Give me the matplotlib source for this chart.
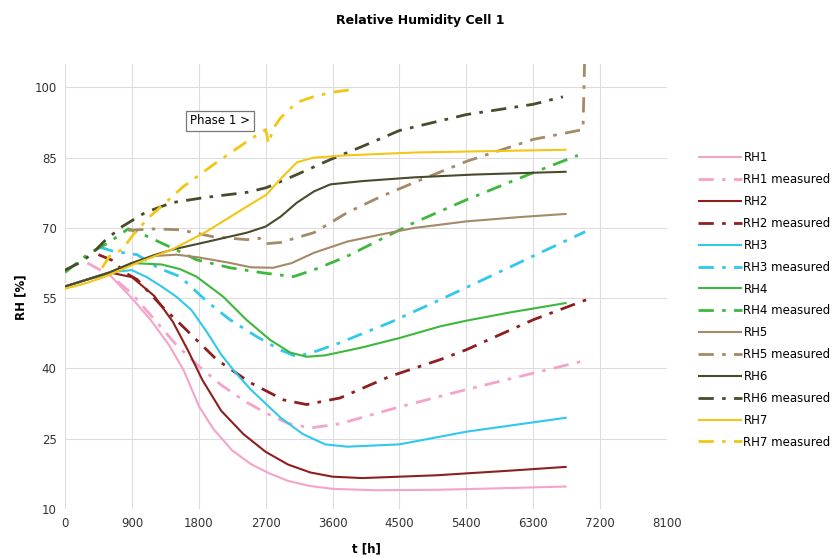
#!/usr/bin/env python3
"""
Relative humidity in cell 1: simulated vs measured sensors RH1..RH7
"""

import matplotlib.pyplot as plt

plt.rcParams['font.family'] = ['DejaVu Sans']

# --- simulated (solid) ---
t_rh1 = [0, 300, 600, 900, 1150, 1400, 1600, 1800, 2000, 2250, 2500, 2750, 3000, 3300, 3600, 4200, 5000, 5800, 6750]
rh1 = [57.5, 59.0, 60.0, 55.0, 50.4, 45.0, 39.5, 32.0, 27.0, 22.5, 19.6, 17.6, 16.0, 14.9, 14.3, 14.0, 14.1, 14.4, 14.8]

t_rh2 = [0, 300, 600, 900, 1200, 1450, 1650, 1850, 2100, 2400, 2700, 3000, 3300, 3600, 4000, 5000, 6000, 6750]
rh2 = [57.5, 59.0, 60.5, 59.5, 55.5, 50.0, 44.0, 37.5, 31.0, 26.0, 22.2, 19.5, 17.8, 16.9, 16.6, 17.2, 18.2, 19.0]

t_rh3 = [0, 300, 600, 900, 1100, 1300, 1500, 1700, 1900, 2100, 2300, 2500, 2900, 3200, 3500, 3800, 4500, 5400, 6300, 6750]
rh3 = [57.5, 59.0, 60.5, 61.0, 59.5, 57.5, 55.3, 52.5, 48.0, 43.0, 39.0, 35.5, 29.5, 26.0, 23.8, 23.3, 23.8, 26.5, 28.5, 29.5]

t_rh4 = [0, 300, 600, 900, 1300, 1550, 1770, 2130, 2440, 2760, 3030, 3250, 3500, 4000, 4500, 5050, 5400, 6000, 6750]
rh4 = [57.5, 59.0, 60.5, 62.5, 62.2, 61.2, 59.6, 55.3, 50.4, 46.1, 43.4, 42.5, 42.8, 44.5, 46.5, 49.0, 50.2, 52.0, 54.0]

t_rh5 = [0, 300, 600, 900, 1200, 1500, 1800, 2200, 2500, 2800, 3050, 3350, 3800, 4250, 4700, 5400, 6100, 6750]
rh5 = [57.5, 59.0, 60.5, 62.5, 64.0, 64.3, 63.7, 62.6, 61.6, 61.5, 62.5, 64.7, 67.1, 68.6, 70.0, 71.4, 72.3, 73.0]

t_rh6 = [0, 300, 600, 900, 1200, 1450, 1900, 2450, 2700, 2900, 3120, 3350, 3570, 4000, 4700, 5500, 6750]
rh6 = [57.5, 59.0, 60.5, 62.5, 64.2, 65.4, 67.0, 69.0, 70.3, 72.4, 75.4, 77.8, 79.3, 80.0, 80.8, 81.4, 82.0]

t_rh7 = [0, 300, 540, 980, 1440, 1880, 2450, 2710, 2890, 3120, 3340, 3790, 4700, 6750]
rh7 = [57.0, 58.3, 59.6, 62.6, 65.4, 69.0, 74.6, 77.1, 80.3, 84.0, 85.0, 85.5, 86.1, 86.7]

# --- measured (dash-dot) ---
t_rh1_meas = [300, 600, 900, 1200, 1500, 1800, 2100, 2400, 2700, 3000, 3300, 3700, 4500, 5400, 6300, 6950]
rh1_meas = [62.5, 60.0, 56.0, 50.5, 45.0, 40.5, 36.5, 33.2, 30.5, 28.3, 27.3, 28.2, 31.8, 35.5, 39.0, 41.5]

t_rh2_meas = [450, 650, 800, 970, 1320, 1590, 1770, 2040, 2490, 2940, 3250, 3700, 4370, 5050, 5400, 6300, 7020]
rh2_meas = [64.3, 63.0, 60.5, 59.0, 53.0, 48.9, 46.1, 41.9, 37.0, 33.3, 32.3, 33.7, 38.3, 41.9, 44.0, 50.4, 54.7]

t_rh3_meas = [450, 650, 970, 1250, 1550, 1910, 2220, 2580, 2890, 3120, 3400, 3700, 4370, 5050, 5700, 6300, 7000]
rh3_meas = [66.0, 65.0, 64.3, 61.5, 59.6, 54.3, 50.4, 46.8, 44.0, 42.5, 43.8, 45.5, 49.8, 54.7, 59.5, 64.0, 69.2]

t_rh4_meas = [0, 300, 600, 850, 1000, 1200, 1500, 1770, 2220, 2670, 3070, 3340, 3790, 4240, 4680, 5400, 6300, 6900]
rh4_meas = [60.5, 64.3, 67.0, 69.8, 69.0, 67.5, 65.3, 63.2, 61.5, 60.4, 59.6, 61.0, 63.9, 67.5, 71.0, 76.0, 81.8, 85.5]

t_rh5_meas = [850, 1200, 1550, 2000, 2450, 2620, 2680, 2900, 3350, 3800, 4250, 4700, 5400, 6300, 6970, 7000]
rh5_meas = [69.5, 69.8, 69.6, 68.1, 67.5, 67.8, 66.6, 66.9, 69.0, 73.3, 76.7, 79.7, 84.2, 88.9, 91.0, 112.0]

t_rh6_meas = [0, 200, 350, 550, 770, 1080, 1440, 1880, 2450, 2710, 3120, 3570, 4000, 4500, 5400, 6300, 6700]
rh6_meas = [61.0, 62.6, 64.3, 67.5, 70.3, 73.3, 75.4, 76.5, 77.6, 78.6, 81.4, 84.6, 87.4, 90.8, 94.2, 96.4, 98.0]

t_rh7_meas = [500, 600, 770, 940, 1140, 1590, 2040, 2490, 2700, 2740, 2800, 2900, 3120, 3340, 3570, 3880]
rh7_meas = [61.5, 64.0, 65.4, 69.0, 72.4, 78.8, 84.0, 88.9, 91.0, 88.0, 91.2, 93.5, 96.8, 98.0, 98.9, 99.6]

sensor_names = ['RH1', 'RH2', 'RH3', 'RH4', 'RH5', 'RH6', 'RH7']
x_ticks = [0, 900, 1800, 2700, 3600, 4500, 5400, 6300, 7200, 8100]
y_ticks = [10, 25, 40, 55, 70, 85, 100]


def plot_rh_cell1():
    colors = ['#F4A3CB', '#8E1F1F', '#30C8EC', '#3DB83D', '#A48A66', '#4A4A2C', '#F3C614']
    simulated = [(t_rh1, rh1), (t_rh2, rh2), (t_rh3, rh3), (t_rh4, rh4),
                 (t_rh5, rh5), (t_rh6, rh6), (t_rh7, rh7)]
    measured = [(t_rh1_meas, rh1_meas), (t_rh2_meas, rh2_meas), (t_rh3_meas, rh3_meas),
                (t_rh4_meas, rh4_meas), (t_rh5_meas, rh5_meas), (t_rh6_meas, rh6_meas),
                (t_rh7_meas, rh7_meas)]

    fig = plt.figure(figsize=(8.4, 5.57), dpi=100)
    ax = fig.add_axes([65 / 840, 48 / 557, 602 / 840, 445 / 557])

    for name, col, (ts, ys), (tm, ym) in zip(sensor_names, colors, simulated, measured):
        ax.plot(ts, ys, color=col, lw=1.5, label=name, solid_capstyle='butt')
        ax.plot(tm, ym, color=col, lw=2.0, dashes=(5.5, 3.0, 1.3, 3.0),
                label=f'{name} measured')

    ax.set_xlim(0, 8100)
    ax.set_ylim(10, 105)
    ax.set_xticks(x_ticks)
    ax.set_yticks(y_ticks)
    ax.tick_params(length=0, labelsize=8.5, labelcolor='#333333', pad=6)
    ax.grid(True, color='#DDDDDD', lw=0.8)
    ax.set_axisbelow(True)
    for sp in ax.spines.values():
        sp.set_visible(False)

    ax.set_xlabel('t [h]', fontsize=8.5, fontweight='bold')
    ax.xaxis.set_label_coords(0.5, -0.075)
    ax.set_ylabel('RH [%]', fontsize=8.5, fontweight='bold')
    ax.yaxis.set_label_coords(-0.062, 0.476)

    ax.text(2085, 92.9, 'Phase 1 >', fontsize=8.5, ha='center', va='center',
            bbox=dict(boxstyle='square,pad=0.3', fc='white', ec='#777777', lw=0.9))

    fig.text(0.5, 0.963, 'Relative Humidity Cell 1', ha='center', va='center',
             fontsize=9, fontweight='bold')

    fig.legend(loc='center left', bbox_to_anchor=(698 / 840, 1 - 300 / 557),
               frameon=False, fontsize=8.5, handlelength=3.7, handletextpad=0.15,
               labelspacing=0.75, borderpad=0, borderaxespad=0)

    fig.savefig('out.png', dpi=100, facecolor='white')


if __name__ == '__main__':
    plot_rh_cell1()
